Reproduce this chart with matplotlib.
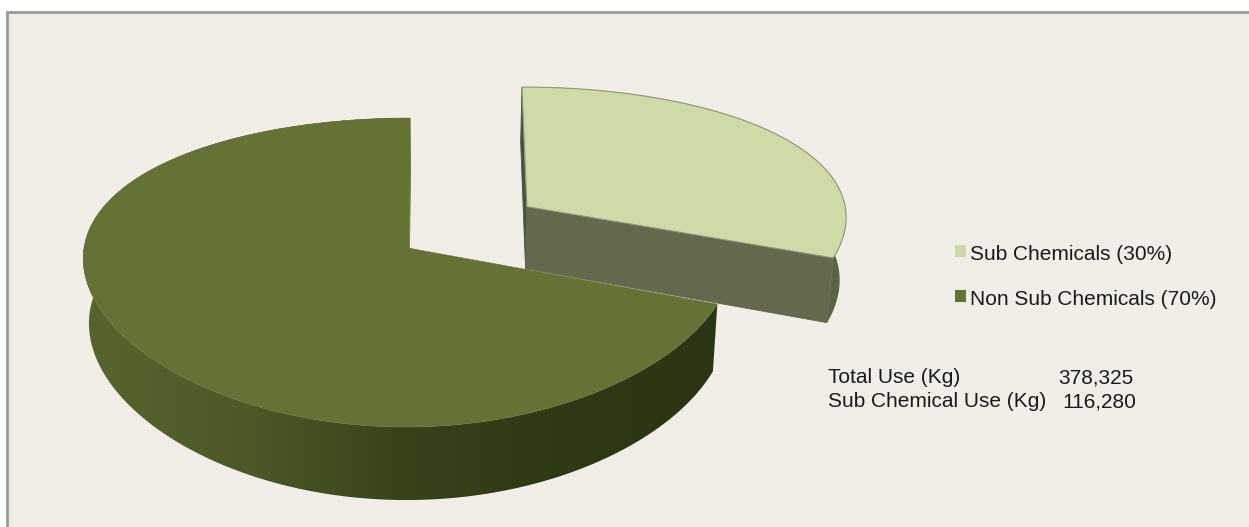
import numpy as np
import matplotlib
matplotlib.use("Agg")
import matplotlib.pyplot as plt
from matplotlib.patches import Polygon, Rectangle
from matplotlib.colors import to_rgb

# ---- data -------------------------------------------------------------
categories = ["Sub Chemicals", "Non Sub Chemicals"]
usage_kg = [116280, 262045]
legend_pct = [30, 70]
info_labels = ["Total Use (Kg)", "Sub Chemical Use (Kg)"]
info_values = [sum(usage_kg), usage_kg[0]]

# ---- styling ----------------------------------------------------------
top_colors = ["#cedba7", "#647335"]
panel_color = "#f1eee7"
font = ["Liberation Sans", "DejaVu Sans"]

W, H = 1249, 527
fig = plt.figure(figsize=(W / 100, H / 100), dpi=100)
fig.patch.set_facecolor("white")
ax = fig.add_axes([0, 0, 1, 1])
ax.set_xlim(0, W)
ax.set_ylim(H, 0)
ax.axis("off")

# chart area panel with a grey frame
ax.add_patch(Rectangle((7, 12), W, H, facecolor=panel_color,
                       edgecolor="#9b9b9b", lw=2, zorder=0))

# ---- 3-D pie projection ----------------------------------------------
CX, CY = 408, 248          # screen position of the pie centre
RX, RY = 324, 150.6        # horizontal / depth radius
XV = 442                   # horizontal vanishing position
KX, KY = 0.063, 0.1586     # perspective strength
THICK, KT = 64.2, 0.121    # slab thickness
SB = 0.984                 # foreshortening of the bottom face


def proj(X, Z, h=0.0):
    X = np.asarray(X, float)
    Z = np.asarray(Z, float)
    x = XV + (CX + RX * X - XV) / (1 + KX * Z)
    x = XV + (x - XV) * (1 - h * (1 - SB))
    y = CY - RY * Z / (1 + KY * Z) + h * THICK / (1 + KT * Z)
    return x, y


def gradient_fill(poly_pts, stops_x, stops_c, z):
    """Fill a polygon with a left-to-right colour ramp."""
    pts = np.asarray(poly_pts)
    x0, x1 = pts[:, 0].min() - 2, pts[:, 0].max() + 2
    y0, y1 = pts[:, 1].min() - 2, pts[:, 1].max() + 2
    xs = np.linspace(x0, x1, 600)
    rgb = np.array([to_rgb(c) for c in stops_c])
    row = np.stack([np.interp(xs, stops_x, rgb[:, i]) for i in range(3)], -1)
    img = np.repeat(row[None, :, :], 2, axis=0)
    clip = Polygon(pts, closed=True, facecolor="none", edgecolor="none")
    ax.add_patch(clip)
    im = ax.imshow(img, extent=(x0, x1, y1, y0), aspect="auto",
                   interpolation="bilinear", zorder=z)
    im.set_clip_path(clip)


def draw_slice(t0, t1, offset, top_color, stops_x, stops_c, walls=(), z=1,
               rim_edge=None):
    ox, oz = offset
    th = np.radians(np.linspace(t0, t1, 500))
    Xr, Zr = ox + np.cos(th), oz + np.sin(th)
    xt, yt = proj(Xr, Zr, 0)
    xb, yb = proj(Xr, Zr, 1)
    # outer wall with shading ramp
    side = list(zip(xt, yt)) + list(zip(xb[::-1], yb[::-1]))
    gradient_fill(side, stops_x, stops_c, z)
    # radial walls
    for ang, col in walls:
        a = np.radians(ang)
        pX = [ox, ox + np.cos(a), ox + np.cos(a), ox]
        pZ = [oz, oz + np.sin(a), oz + np.sin(a), oz]
        hs = [0, 0, 1, 1]
        pts = [proj(pX[k], pZ[k], hs[k]) for k in range(4)]
        ax.add_patch(Polygon(pts, closed=True, facecolor=col,
                             edgecolor=col, lw=0.6, zorder=z + 0.1))
    # top face
    cx, cy = proj(ox, oz, 0)
    pts = [(float(cx), float(cy))] + list(zip(xt, yt))
    ax.add_patch(Polygon(pts, closed=True, facecolor=top_color,
                         edgecolor=rim_edge or top_color,
                         lw=0.8 if rim_edge else 0.4, zorder=z + 0.2))


total = sum(usage_kg)
sweep = [360.0 * v / total for v in usage_kg]
start = 90.0
sub_t0, sub_t1 = start - sweep[0], start
big_t0, big_t1 = start - 360.0, start - sweep[0]

# exploded slice: shifted along its bisector
explode = 0.452
mid = np.radians(0.5 * (sub_t0 + sub_t1))
sub_offset = (explode * np.cos(mid), explode * np.sin(mid) + 0.03)

draw_slice(sub_t0, sub_t1, sub_offset, top_colors[0],
           [700, 900], ["#62684b", "#5a6045"],
           walls=[(sub_t1, "#4d5340"), (sub_t0, "#63694c")],
           z=1, rim_edge="#8f977a")
draw_slice(big_t0, big_t1, (0.0, 0.0), top_colors[1],
           [80, 250, 400, 550, 720],
           ["#57652d", "#4b5927", "#37441a", "#2e3915", "#2b3513"],
           walls=[(big_t0, "#6b7b38")], z=2)

# ---- legend -------------------------------------------------------------
leg_x, leg_base = 955, [260, 305]
for lab, pct, col, yb in zip(categories, legend_pct, top_colors, leg_base):
    ax.add_patch(Rectangle((leg_x, yb - 15), 11, 12, facecolor=col,
                           edgecolor="none", zorder=5))
    ax.text(leg_x + 15, yb, f"{lab} ({pct}%)", fontsize=15, family=font,
            color="#1a1a1a", va="baseline", ha="left", zorder=5)

# ---- totals -------------------------------------------------------------
info_base = [383, 407]
value_x = [1058, 1062]
for lab, val, yb, vx in zip(info_labels, info_values, info_base, value_x):
    ax.text(828, yb, lab, fontsize=15, family=font, color="#1a1a1a",
            va="baseline", ha="left", zorder=5)
    ax.text(vx, yb, f"{val:,}", fontsize=15, family=font, color="#1a1a1a",
            va="baseline", ha="left", zorder=5)

fig.savefig("out.png", dpi=100, facecolor="white")
